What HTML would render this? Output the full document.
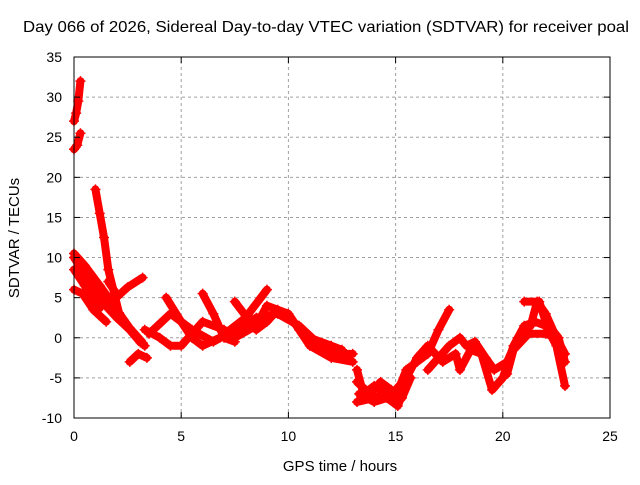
<!DOCTYPE html>
<html><head><meta charset="utf-8"><style>
body{margin:0;background:#fff}
svg text{font-family:"Liberation Sans",sans-serif;font-size:14px;fill:#000}
</style></head><body>
<svg id="chart" width="640" height="480">
<text x="326" y="32" text-anchor="middle" textLength="606" lengthAdjust="spacingAndGlyphs" style="font-size:16px">Day 066 of 2026, Sidereal Day-to-day VTEC variation (SDTVAR) for receiver poal</text>
<g id="grid"></g><g id="marks"></g><g id="axes"></g>
<text x="340" y="471" text-anchor="middle" style="font-size:15px">GPS time / hours</text>
<text transform="translate(19,238) rotate(-90)" text-anchor="middle" style="font-size:15px">SDTVAR / TECUs</text>
</svg>
<script>
const xTicks=[0,5,10,15,20,25];
const yTicks=[-10,-5,0,5,10,15,20,25,30,35];
const trackA=[[0,27],[0.1,28],[0.2,29.5],[0.3,32]];
const trackB=[[0,23.5],[0.15,24],[0.3,25.5]];
const trackC=[[1.0,18.5],[1.2,15.5],[1.4,12.5],[1.6,8.5],[2.1,3.1],[2.6,1.2],[3.2,-0.6]];
const trackD=[[1.6,7],[2.05,5.2],[2.5,6.3],[3.2,7.5]];
const trackE=[[0,10.5],[0.5,9],[1.2,6.5],[2.0,3.5],[2.6,1],[3.1,-0.6]];
const trackE2=[[0,8.5],[0.5,6.5],[1.2,3.7]];
const trackE3=[[0,10],[0.6,7.5],[1.3,4.5],[2.0,2.5],[2.8,0.5],[3.3,-1]];
const trackE4=[[0,6],[0.4,5.5],[0.9,3.5],[1.5,2]];
const trackF=[[2.6,-3],[3.0,-2],[3.4,-2.5]];
const trackG=[[3.5,0.5],[4.5,3],[5.5,1],[6.5,-0.5],[7.5,1],[8.5,2.5],[9.5,3],[10.5,1.5],[11.5,-1],[12.5,-2],[13,-2]];
const trackH=[[4.3,5],[5,2],[5.5,0],[6,-1],[6.8,0],[8,2.5],[9,6]];
const trackI=[[3.3,1],[4,0],[4.5,-1],[5,-1],[6,2],[7,1],[7.5,0],[8.5,1.5],[9,4],[10,3],[10.5,1],[11,-1],[12,-2.5],[13,-3]];
const trackJ=[[6,5.5],[6.5,3],[7,0],[7.5,-0.5]];
const trackK=[[7.5,4.5],[8.5,1],[9,2],[9.5,3.5],[10,2.5],[11,0],[12,-1],[12.5,-1.5]];
const trackL=[[13.2,-4],[13.5,-7],[14,-6],[14.5,-7],[15,-8],[15.2,-6],[15.5,-4],[16,-3],[16.5,-2],[17,1],[17.5,3.5]];
const trackL2=[[13.2,-5.5],[13.8,-7],[14.3,-5.5],[14.8,-6.5],[15.3,-7.5],[15.7,-5]];
const trackL3=[[13.3,-7],[14,-8],[14.6,-7.5],[15.1,-8.5],[15.4,-6.5]];
const trackM=[[13.2,-8],[14,-7.5],[15,-6.5],[15.5,-5],[16,-2.5],[16.5,-1],[17.2,-3],[17.8,-2],[18,-4],[18.5,-1.5],[19,-2],[19.5,-6.5],[20,-5],[20.5,-1],[21,1.5],[21.5,2],[22,1.5],[22.5,-1],[22.9,-6]];
const trackN=[[16.5,-4],[17.5,-1],[18,0],[18.3,-1],[18.7,-0.5],[19.2,-2.5],[19.6,-4],[20.2,-3],[20.7,0],[21.3,1.5],[21.6,4.5],[22,3],[22.5,0],[22.9,-2]];
const trackO=[[21,4.5],[21.7,4.5],[22,2],[22.6,0],[22.9,-3]];
const trackP=[[20.2,-4.5],[20.5,-1.5],[21.2,0.5],[22,0.5],[22.5,0]];
const tracks=[trackA,trackB,trackC,trackD,trackE,trackE2,trackE3,trackE4,trackF,trackG,trackH,trackI,trackJ,trackK,trackL,trackL2,trackL3,trackM,trackN,trackO,trackP];

const X0=74,X1=610,Y0=418,Y1=57;
const xs=t=>X0+(t-0)/(25-0)*(X1-X0);
const ys=v=>Y0-(v+10)/(45)*(Y0-Y1);
const NS="http://www.w3.org/2000/svg";
function mk(tag,attrs,parent){const e=document.createElementNS(NS,tag);for(const k in attrs)e.setAttribute(k,attrs[k]);parent.appendChild(e);return e;}
const grid=document.getElementById('grid'),axes=document.getElementById('axes'),marks=document.getElementById('marks');
xTicks.forEach(t=>{
  const x=xs(t);
  if(t>0&&t<25){const g=mk('line',{x1:x,y1:Y0,x2:x,y2:Y1,stroke:'#a0a0a0','stroke-dasharray':'3,3'},grid);
  
  }
  mk('line',{x1:x,y1:Y0,x2:x,y2:Y0-6,stroke:'#000'},axes);
  mk('line',{x1:x,y1:Y1,x2:x,y2:Y1+6,stroke:'#000'},axes);
  const l=mk('text',{x:x,y:Y0+23,'text-anchor':'middle'},axes);l.textContent=t;
  
  
});
yTicks.forEach(v=>{
  const y=ys(v);
  if(v>-10&&v<35){const g=mk('line',{x1:X0,y1:y,x2:X1,y2:y,stroke:'#a0a0a0','stroke-dasharray':'3,3'},grid);
  
  }
  mk('line',{x1:X0,y1:y,x2:X0+6,y2:y,stroke:'#000'},axes);
  mk('line',{x1:X1,y1:y,x2:X1-6,y2:y,stroke:'#000'},axes);
  const l=mk('text',{x:X0-12,y:y+5,'text-anchor':'end'},axes);l.textContent=v;
  
  
});
const fr=mk('rect',{x:X0,y:Y1,width:X1-X0,height:Y0-Y1,fill:'none',stroke:'#000'},axes);


tracks.forEach(tr=>{
  const pts=tr.map(p=>xs(p[0])+','+ys(p[1])).join(' ');
  const pl=mk('polyline',{points:pts,fill:'none',stroke:'#ff0000','stroke-width':8,'stroke-linejoin':'round','stroke-linecap':'round'},marks);
  
  
  tr.forEach(p=>{
    const x=xs(p[0]),y=ys(p[1]);
    const m=mk('path',{d:`M${x-5},${y}H${x+5}M${x},${y-5}V${y+5}`,stroke:'#ff0000','stroke-width':1.5},marks);
    
    
  });
});
</script>
</body></html>
